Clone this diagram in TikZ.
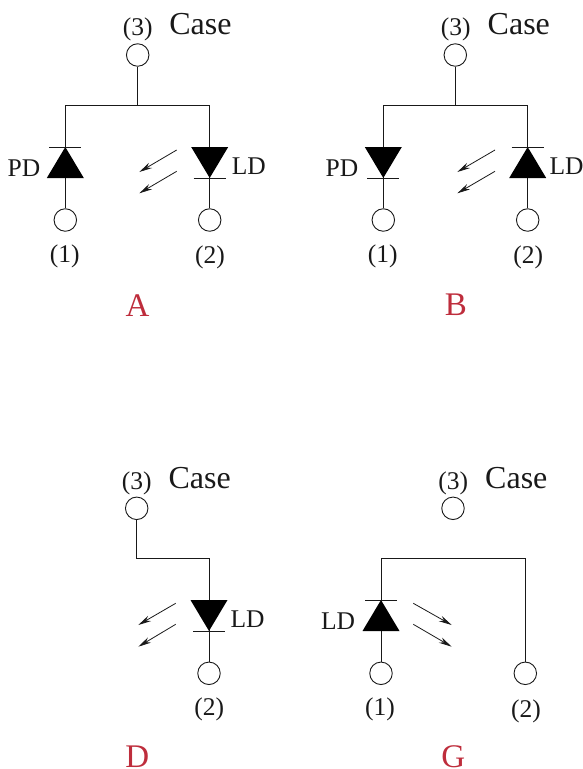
\documentclass[tikz,border=0pt]{standalone}
\usepackage{fontspec}
\setmainfont{Liberation Serif}
\usetikzlibrary{arrows.meta}
\definecolor{labelred}{RGB}{190,45,60}
\definecolor{ink}{RGB}{25,25,25}
\tikzset{x=1pt,y=-1pt,
 pin/.style={circle,draw=ink,line width=0.9pt,minimum size=22.5pt,inner sep=0pt},
 wire/.style={draw=ink,line width=0.95pt},
 txt/.style={font=\fontsize{25.5}{28}\selectfont,inner sep=0pt,anchor=base,text=ink},
 casetxt/.style={font=\fontsize{32}{36}\selectfont,inner sep=0pt,anchor=base,text=ink},
 letter/.style={font=\fontsize{33}{36}\selectfont,text=labelred,inner sep=0pt,anchor=base,text depth=0pt},
 ray/.style={draw=ink,line width=0.8pt,-{Stealth[length=13pt,width=6pt]}}}
\newcommand{\diodeup}[2]{%
 \fill[black] (#1-18.5,#2+31) -- (#1+18.5,#2+31) -- (#1,#2) -- cycle;
 \draw[wire] (#1-16,#2) -- (#1+16,#2);}
\newcommand{\diodedown}[2]{%
 \fill[black] (#1-18.5,#2) -- (#1+18.5,#2) -- (#1,#2+31) -- cycle;
 \draw[wire] (#1-16,#2+31) -- (#1+16,#2+31);}
\begin{document}
\begin{tikzpicture}
\useasboundingbox (0,0) rectangle (583,769);
% A
\node[txt] (a3) at (137.7,35.5) {(3)};
\node[casetxt] (ac) at (200.5,34.5) {Case};
\node[pin] (ap3) at (137.7,55) {};
\node[pin] (ap1) at (65.3,220) {};
\node[pin] (ap2) at (209.7,220) {};
\coordinate (aj) at (137.7,105);
\coordinate (al) at (65.3,105);
\coordinate (ar) at (209.7,105);
\draw[wire] (ap3) -- (aj);
\draw[wire] (ap1) -- (al) -- (ar) -- (ap2);
\diodeup{65.3}{147}
\diodedown{209.7}{147}
\node[txt] (apd) at (24,176.5) {PD};
\node[txt] (ald) at (248.8,174) {LD};
\node[txt] (a1) at (64.7,262) {(1)};
\node[txt] (a2) at (210,263.5) {(2)};
\node[letter] (al2) at (137.6,316) {A};
\coordinate (ar1s) at (176.7,150);
\coordinate (ar1e) at (139.3,172);
\coordinate (ar2s) at (176.7,171.3);
\coordinate (ar2e) at (139.3,193.3);
\draw[ray] (ar1s) -- (ar1e);
\draw[ray] (ar2s) -- (ar2e);
% B
\node[txt] (b3) at (455.7,35.5) {(3)};
\node[casetxt] (bc) at (518.8,34.5) {Case};
\node[pin] (bp3) at (455.3,55) {};
\node[pin] (bp1) at (383.3,220) {};
\node[pin] (bp2) at (527.7,220) {};
\coordinate (bj) at (455.3,105);
\coordinate (bl) at (383.3,105);
\coordinate (br) at (527.7,105);
\draw[wire] (bp3) -- (bj);
\draw[wire] (bp1) -- (bl) -- (br) -- (bp2);
\diodedown{383.3}{147}
\diodeup{527.7}{147}
\node[txt] (bpd) at (342,176) {PD};
\node[txt,anchor=base west] (bld) at (549.3,174) {LD};
\node[txt] (b1) at (382.7,262) {(1)};
\node[txt] (b2) at (528.3,263.5) {(2)};
\node[letter] (bl2) at (456,315.5) {B};
\coordinate (br1s) at (495,150);
\coordinate (br1e) at (457.3,172);
\coordinate (br2s) at (495,171.3);
\coordinate (br2e) at (457.3,193.3);
\draw[ray] (br1s) -- (br1e);
\draw[ray] (br2s) -- (br2e);
% D
\node[txt] (d3) at (136.7,489.5) {(3)};
\node[casetxt] (dc) at (199.7,488.5) {Case};
\node[pin] (dp3) at (136.7,508.3) {};
\node[pin] (dp2) at (209,673.3) {};
\coordinate (dc1) at (136.7,558);
\coordinate (dc2) at (209,558);
\draw[wire] (dp3) -- (dc1) -- (dc2) -- (dp2);
\diodedown{209}{600}
\node[txt] (dld) at (247.5,627.5) {LD};
\node[txt] (d2) at (209.3,715) {(2)};
\node[letter] (dl2) at (137.3,767) {D};
\coordinate (dr1s) at (175.7,603.3);
\coordinate (dr1e) at (138.3,625);
\coordinate (dr2s) at (175.7,624.3);
\coordinate (dr2e) at (138.3,646.7);
\draw[ray] (dr1s) -- (dr1e);
\draw[ray] (dr2s) -- (dr2e);
% G
\node[txt] (g3) at (453.3,489.5) {(3)};
\node[casetxt] (gc) at (516.3,488.8) {Case};
\node[pin] (gp3) at (453,508.3) {};
\node[pin] (gp1) at (381,673.3) {};
\node[pin] (gp2) at (525.3,673.3) {};
\coordinate (gl) at (381,558);
\coordinate (gr) at (525.3,558);
\draw[wire] (gp1) -- (gl) -- (gr) -- (gp2);
\diodeup{381}{600}
\node[txt] (gld) at (338,629) {LD};
\node[txt] (g1) at (380,715) {(1)};
\node[txt] (g2) at (526,717) {(2)};
\node[letter] (gl2) at (453.3,767) {G};
\coordinate (gr1s) at (413.3,603.3);
\coordinate (gr1e) at (451.7,625);
\coordinate (gr2s) at (413.3,624.3);
\coordinate (gr2e) at (451.7,646.7);
\draw[ray] (gr1s) -- (gr1e);
\draw[ray] (gr2s) -- (gr2e);
\end{tikzpicture}
\end{document}
